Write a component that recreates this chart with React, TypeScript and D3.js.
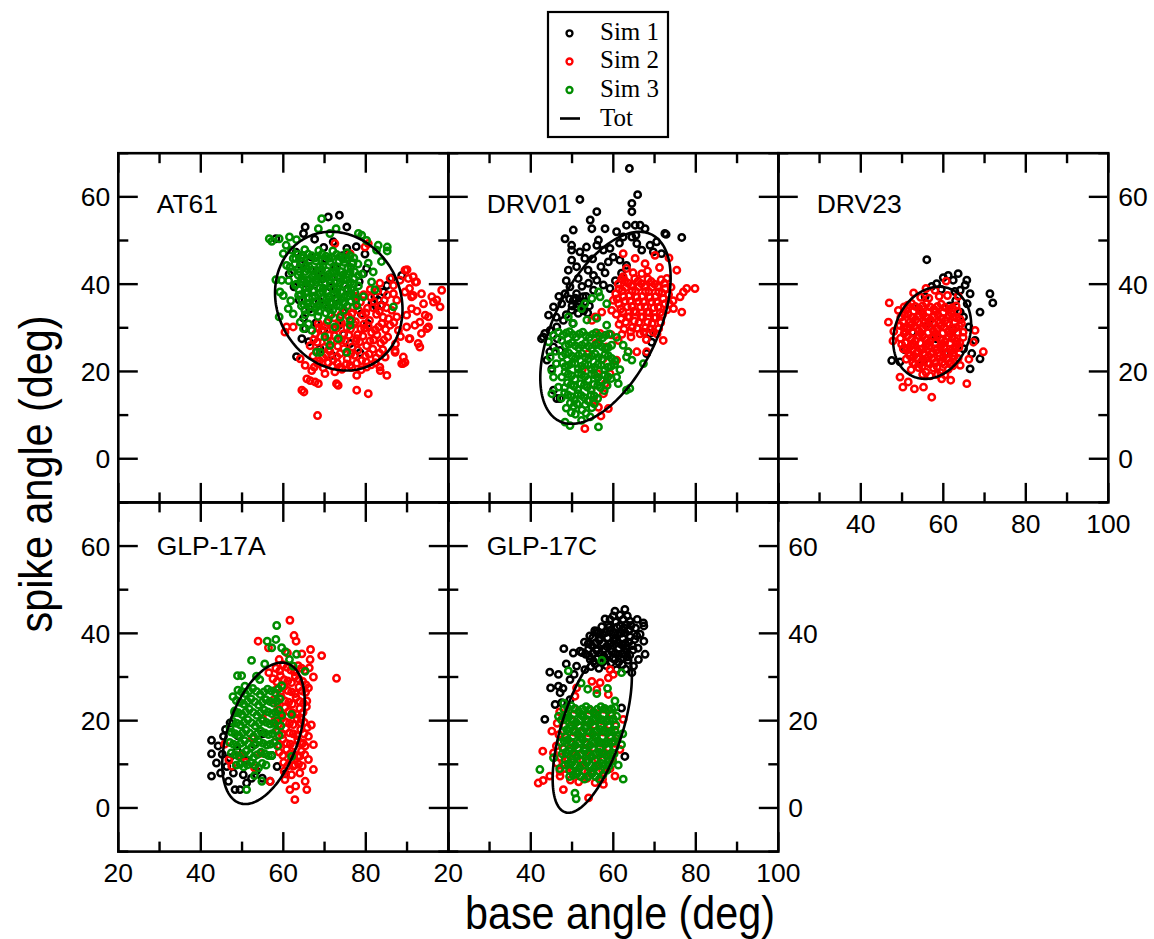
import React from 'react';
import * as d3 from 'd3';

// ---------- axes / labels ----------
const xDomain = [20, 100];
const yDomain = [-10, 70];
const majorTicks = [20, 40, 60, 80, 100];
const yMajorTicks = [0, 20, 40, 60];
const xMinorTicks = [30, 50, 70, 90];
const yMinorTicks = [-10, 10, 30, 50, 70];
const seriesNames = ['Sim 1', 'Sim 2', 'Sim 3'];
const totName = 'Tot';
const seriesColors = ['#000000', '#ff0000', '#008c00'];
const xTitle = 'base angle (deg)';
const yTitle = 'spike angle (deg)';

// ---------- ellipse ("Tot") parameters: [cx, cy, sdx, sdy, r] ----------
const at61Ellipse = [73.45, 36.1, 15.45, 15.9, -0.12];
const drv01Ellipse = [58.1, 30.0, 15.8, 22.0, 0.52];
const drv23Ellipse = [57.3, 28.85, 9.45, 10.55, 0.18];
const glp17aEllipse = [55.2, 17.1, 10.0, 16.2, 0.44];
const glp17cEllipse = [54.9, 18.4, 9.6, 19.5, 0.6];

// ---------- scatter data (x, y pairs) ----------
const at61Sim1 = [
  58.2,50.4, 65.3,53.1, 70.9,55.4, 73.6,55.8, 75.4,53.1, 64.9,51.6, 72.1,49.7, 75.4,48.2, 67.6,50.3, 69.8,48.4,
  88.7,42.0, 84.3,38.2, 82.2,37.1, 82.6,34.8, 83.0,36.3, 80.2,43.6, 79.4,42.4, 85.1,39.7, 81.5,35.6, 83.8,35.2, 86.2,41.4,
  63.2,23.4, 64.5,27.5, 65.3,29.8, 76.2,26.4, 68.9,25.2, 66.2,26.8, 78.6,24.3, 71.8,23.7, 74.6,28.5,
  64.2,44.5, 66.8,46.2, 68.1,43.1, 70.2,45.8, 72.5,44.0, 74.3,46.5, 76.8,44.8, 78.4,40.6, 65.5,40.2, 67.3,38.5,
  69.5,41.2, 71.4,39.3, 73.2,41.7, 75.6,38.9, 77.3,37.2, 63.8,36.4, 66.4,34.3, 68.7,36.1, 70.8,34.6, 72.9,36.8,
  74.7,33.5, 76.5,31.8, 78.9,33.2, 80.4,31.0, 64.9,32.2, 67.9,31.1, 69.8,29.3, 73.4,30.5, 62.6,39.4, 61.4,42.3,
  63.1,47.3, 79.8,46.9, 77.7,48.6
];
const at61Sim2 = [
  72.5,49.3, 80.6,49.3, 79.8,48.5, 76.2,47.0, 89.5,43.2, 90.3,41.3, 92.3,40.5, 89.5,38.2, 91.5,37.4, 93.5,37.8,
  96.0,37.1, 98.4,38.6, 97.2,36.4, 94.0,35.5, 91.1,34.4, 92.4,33.8, 94.4,32.9, 95.2,32.5, 95.2,30.2, 93.1,31.3,
  91.9,30.6, 89.9,32.9, 87.5,32.5, 89.9,30.2, 87.9,29.4, 85.9,30.6, 85.5,32.1, 86.3,34.0, 87.5,36.3, 86.7,37.8,
  86.7,39.7, 85.9,41.3, 88.3,40.9, 98.0,34.8, 96.4,35.9, 93.5,28.7, 90.7,27.5, 92.7,26.4, 93.1,25.6, 89.1,23.3,
  89.5,22.1, 88.7,21.8, 87.1,24.4, 84.7,23.3, 83.4,21.0, 85.1,19.1, 80.2,21.0, 77.8,19.1, 76.2,21.4, 73.7,21.0,
  72.5,19.9, 70.1,19.5, 66.9,20.2, 66.5,17.9, 67.7,17.6, 68.5,17.2, 65.7,18.3, 64.5,15.7, 65.0,15.3, 73.3,16.8,
  77.8,15.7, 80.6,14.9, 65.3,21.4, 64.1,22.9, 62.4,30.2, 60.8,30.2, 60.4,29.0, 68.3,9.9, 72.9,17.2, 90.5,27.5,
  94.8,29.8, 92.0,40.5, 90.0,43.3, 91.5,41.7, 90.6,39.0, 91.1,37.1, 87.1,24.8, 83.5,20.2, 89.0,21.8,
  67.2,23.5, 68.8,22.4, 70.4,23.8, 72.1,22.6, 73.8,24.1, 75.5,22.9, 77.3,23.7, 79.0,22.5, 80.8,24.0, 82.5,23.1, 84.1,25.0,
  66.5,25.9, 68.2,26.7, 69.9,25.5, 71.6,26.9, 73.2,25.8, 75.0,27.0, 76.7,25.6, 78.5,26.8, 80.2,25.9, 81.9,27.2, 83.6,26.5, 85.3,27.9,
  67.8,28.6, 69.4,29.5, 71.1,28.3, 72.8,29.8, 74.5,28.6, 76.3,29.7, 78.0,28.4, 79.7,29.9, 81.4,28.9, 83.1,30.2, 84.8,29.6,
  70.6,31.2, 72.3,32.3, 74.1,31.1, 75.8,32.6, 77.5,31.4, 79.2,32.9, 80.9,31.7, 82.6,33.1, 84.2,32.4,
  76.9,34.8, 78.7,35.9, 80.4,34.5, 82.0,36.0, 83.7,35.0, 85.2,37.5, 81.1,38.8, 83.4,40.2,
  67.5,21.0, 69.7,20.8, 71.9,21.2, 74.2,20.5, 76.6,20.9, 78.9,20.4, 81.3,21.5,
  87.2,26.3, 88.4,28.0, 86.8,31.2, 82.3,22.0, 71.0,25.0, 77.8,27.5, 74.0,33.0, 68.5,31.0, 79.5,30.8,
  68.0,24.6, 69.6,23.2, 71.3,24.6, 73.0,23.4, 74.7,25.2, 76.4,24.1, 78.1,24.9, 79.9,23.5, 81.7,25.1, 83.3,24.2,
  67.4,27.3, 69.0,28.0, 70.7,26.9, 72.4,28.2, 74.1,27.3, 75.9,28.3, 77.6,26.9, 79.3,28.1, 81.0,27.0, 82.7,28.4, 84.4,27.2,
  68.6,30.0, 70.2,30.4, 72.0,29.8, 73.6,31.1, 75.4,30.0, 77.1,30.8, 78.8,29.8, 80.6,30.4, 82.3,29.5, 83.9,31.0,
  75.0,33.8, 76.6,33.2, 78.3,34.0, 80.0,33.4, 81.7,34.6, 83.3,33.8, 85.0,34.6,
  77.8,37.2, 79.5,37.6, 81.2,37.0, 82.9,38.4, 84.5,36.3,
  68.3,21.8, 70.9,22.0, 73.1,21.9, 75.3,21.7, 77.8,21.9, 80.1,22.2
];
const at61Sim3 = [
  56.6,50.4, 59.0,50.4, 61.5,50.8, 63.2,50.2, 60.7,48.9, 62.0,47.8, 60.0,47.0, 62.4,45.9, 60.8,44.3, 62.0,42.8,
  58.2,41.0, 59.6,40.9, 59.2,38.2, 60.0,37.4, 59.0,32.5, 61.2,34.4, 62.4,33.2, 69.3,55.0, 68.5,52.7, 71.3,51.6,
  72.8,52.7, 78.2,51.6, 79.0,51.2, 83.0,48.9, 85.2,48.5, 85.2,47.6, 82.6,47.8, 81.8,42.8, 78.2,42.0, 81.4,40.5,
  82.2,38.7, 86.7,34.8, 79.4,37.1, 77.8,35.1, 76.2,30.6, 75.4,24.4, 71.3,26.0, 68.9,24.4, 68.1,24.4, 73.3,27.5,
  70.1,27.9, 66.9,29.4, 64.9,29.8, 66.1,30.9, 64.1,31.3, 76.2,31.7, 72.5,30.2, 70.9,31.7, 57.2,49.8, 80.2,50.0,
  83.8,45.2, 80.6,44.8,
  63.5,46.8, 65.2,47.9, 66.9,46.5, 68.6,47.7, 70.3,46.4, 72.0,47.6, 73.7,46.3, 75.4,47.2, 77.1,46.0,
  62.8,44.6, 64.5,45.2, 66.2,44.0, 67.9,45.3, 69.6,44.1, 71.3,45.2, 73.0,44.0, 74.7,45.0, 76.4,43.8, 78.1,44.6,
  63.6,42.1, 65.3,42.9, 67.0,41.7, 68.7,42.8, 70.4,41.5, 72.1,42.6, 73.8,41.4, 75.5,42.3, 77.2,41.2,
  62.9,39.8, 64.6,40.5, 66.3,39.3, 68.0,40.4, 69.7,39.1, 71.4,40.2, 73.1,39.0, 74.8,39.9, 76.5,38.8, 78.2,39.6,
  63.7,37.4, 65.4,38.0, 67.1,36.9, 68.8,37.9, 70.5,36.6, 72.2,37.6, 73.9,36.5, 75.6,37.3,
  64.4,35.0, 66.1,35.6, 67.8,34.4, 69.5,35.4, 71.2,34.2, 72.9,35.1, 74.6,34.0,
  65.3,33.0, 68.4,32.6, 71.6,33.0, 73.8,32.4, 61.8,36.2, 61.3,40.8, 61.6,43.9, 79.1,42.3, 77.6,36.4,
  64.3,46.1, 66.0,46.9, 67.8,46.0, 69.4,46.9, 71.1,45.9, 72.9,46.8, 74.5,45.7, 76.2,46.5,
  63.7,43.5, 65.4,44.1, 67.1,43.2, 68.8,44.0, 70.5,43.0, 72.2,43.8, 73.9,42.9, 75.6,43.6, 77.3,42.8,
  64.4,41.2, 66.1,41.0, 67.8,40.9, 69.5,41.8, 71.2,41.0, 72.9,40.6, 74.6,41.0, 76.3,40.4,
  63.8,38.7, 65.5,39.2, 67.2,38.4, 68.9,39.1, 70.6,38.3, 72.3,39.0, 74.0,38.1, 75.7,38.6, 77.4,38.0,
  64.5,36.3, 66.2,36.9, 67.9,36.0, 69.6,36.8, 71.3,35.8, 73.0,36.4, 74.7,35.6, 76.4,36.0,
  65.2,34.0, 66.9,33.6, 68.6,33.8, 70.3,33.4, 72.0,34.1,
  63.0,45.9, 64.8,46.6, 66.5,45.5, 68.3,46.4, 70.0,45.3, 71.8,46.2, 73.5,45.2, 75.2,45.9, 76.9,44.9,
  64.0,42.8, 65.8,43.5, 67.5,42.4, 69.3,43.3, 71.0,42.2, 72.8,43.1, 74.5,42.1, 76.2,42.8,
  63.2,40.0, 65.0,40.9, 66.7,40.2, 68.5,41.1, 70.2,40.0, 72.0,41.5, 73.7,40.2, 75.4,40.9, 77.1,40.0,
  64.2,37.6, 66.0,38.2, 67.7,37.3, 69.5,38.3, 71.2,37.2, 73.0,38.2, 74.7,37.1, 76.4,37.8,
  65.0,35.3, 66.8,35.0, 68.5,35.1, 70.3,35.0, 72.0,35.6, 73.7,34.9, 75.5,35.0
];

const drv01Sim1 = [
  63.9,66.5, 51.9,59.4, 65.9,60.5, 64.5,58.5, 64.5,56.6, 56.0,56.6, 54.4,54.7, 54.8,52.7, 50.3,52.4, 48.3,50.4,
  49.9,48.9, 49.9,47.8, 58.0,52.7, 60.8,52.0, 63.2,53.5, 65.3,53.5, 66.5,53.5, 62.4,50.8, 64.5,50.8, 65.5,51.2,
  67.7,52.7, 72.5,51.6, 76.6,50.7, 70.5,49.7, 71.7,47.0, 69.7,47.4, 56.4,50.1, 56.0,48.9, 53.5,48.5, 51.9,47.4,
  53.1,45.9, 57.6,47.8, 59.2,48.2, 60.0,46.2, 58.8,45.1, 61.6,45.5, 63.2,44.3, 65.7,49.3, 66.9,47.8, 68.9,48.9,
  49.9,45.5, 49.1,43.2, 51.1,44.0, 53.9,43.2, 55.2,42.0, 51.5,41.3, 49.5,39.4, 48.3,37.8, 47.5,35.5, 51.1,37.8,
  56.0,40.9, 57.6,39.8, 59.2,39.0, 55.2,38.6, 52.7,37.1, 50.3,36.3, 51.1,34.8, 52.3,34.8, 49.9,34.0, 51.5,33.3,
  53.1,35.9, 45.5,34.8, 44.3,32.9, 43.0,27.9, 43.4,28.7, 46.3,30.2, 44.7,29.4, 45.5,25.6, 43.9,22.6, 45.1,20.6,
  47.1,24.8, 47.9,31.7, 69.3,26.7, 68.9,28.7, 47.1,13.8, 45.5,15.7, 72.8,51.4, 68.1,24.1, 42.6,27.5, 46.3,13.8,
  57.0,44.0, 54.0,40.2, 62.0,42.5, 60.5,40.8, 58.0,42.6, 48.6,40.8, 46.8,37.2, 52.4,39.5, 50.2,31.0, 48.6,33.0,
  53.8,33.4, 61.5,49.4, 55.0,45.8, 46.2,32.4, 44.6,24.5, 46.4,27.5,
  50.8,36.8, 52.0,36.0, 53.4,37.2, 50.0,35.0, 52.8,33.9, 54.2,35.0, 49.4,36.6, 51.6,35.4
];
const drv01Sim2 = [
  79.8,39.0, 77.8,39.0, 77.0,38.2, 76.2,37.1, 76.6,33.6, 74.6,34.4, 75.4,43.2, 73.0,41.3, 70.1,46.6, 67.7,44.7,
  65.3,45.9, 62.4,47.0, 62.4,41.7, 63.2,43.6, 66.9,42.4, 72.1,27.1, 68.1,24.5, 65.7,24.5, 63.6,24.5, 69.7,29.0,
  60.0,36.3, 59.6,34.0, 57.2,33.6, 55.6,32.5, 54.8,31.7, 53.1,6.9, 55.2,13.4, 57.6,14.9, 56.4,11.8, 59.2,19.5,
  60.8,22.6, 58.4,25.6, 56.8,28.7, 61.2,27.1, 73.5,46.0, 71.2,43.8,
  61.2,40.0, 62.8,40.8, 64.4,39.6, 66.0,40.7, 67.6,39.5, 69.2,40.6, 70.8,39.4, 72.4,40.2,
  60.6,37.8, 62.2,38.5, 63.8,37.3, 65.4,38.4, 67.0,37.2, 68.6,38.3, 70.2,37.1, 71.8,38.0, 73.4,37.6,
  61.3,35.5, 62.9,36.1, 64.5,34.9, 66.1,36.0, 67.7,34.8, 69.3,35.9, 70.9,34.7, 72.5,35.5,
  60.7,33.1, 62.3,33.7, 63.9,32.5, 65.5,33.6, 67.1,32.4, 68.7,33.5, 70.3,32.3, 71.9,33.0,
  61.4,30.8, 63.0,31.3, 64.6,30.1, 66.2,31.2, 67.8,30.0, 69.4,31.0, 71.0,29.8,
  62.1,28.5, 64.3,27.9, 66.5,28.6, 68.0,27.3, 64.8,42.6, 68.3,43.0, 74.5,36.2, 74.0,39.3,
  55.8,26.5, 57.5,22.8, 56.2,19.5, 58.0,17.2, 54.6,15.8, 57.0,9.8, 59.5,28.4, 53.8,24.0, 52.5,20.5, 58.8,11.5,
  62.0,41.2, 63.6,40.2, 65.2,41.3, 66.8,40.1, 68.4,41.2, 70.0,40.0, 71.6,41.0,
  61.4,38.9, 63.0,39.2, 64.6,38.5, 66.2,39.4, 67.8,38.3, 69.4,39.3, 71.0,38.2, 72.6,39.0,
  60.9,36.6, 62.5,37.2, 64.1,36.1, 65.7,37.0, 67.3,35.9, 68.9,37.0, 70.5,35.9, 72.1,36.7, 73.6,35.5,
  61.8,34.3, 63.4,34.8, 65.0,33.8, 66.6,34.8, 68.2,33.6, 69.8,34.6, 71.4,33.5, 73.0,34.1,
  61.9,32.0, 63.5,32.5, 65.1,31.5, 66.7,32.5, 68.3,31.3, 69.9,32.3, 71.5,31.2,
  62.6,29.7, 64.2,29.1, 65.8,29.9, 67.4,29.0, 69.0,29.8, 70.6,28.6
];
const drv01Sim3 = [
  56.4,7.3, 49.5,7.6, 48.3,8.4, 52.3,8.8, 54.4,9.6, 45.1,14.9, 46.7,16.4, 45.5,18.7, 45.1,20.2, 63.2,15.7,
  64.0,16.1, 61.2,17.2, 60.8,18.7, 67.3,21.8, 64.5,22.6, 63.2,23.3, 63.6,24.5, 62.4,26.0, 58.4,35.5, 56.8,37.1,
  54.8,36.7, 56.4,38.2, 53.1,35.5, 52.3,34.4, 49.1,32.5, 46.7,29.0, 45.5,28.3, 44.3,26.8, 47.5,27.1, 44.7,23.3,
  50.8,10.2,
  47.8,28.3, 49.4,29.1, 51.0,27.9, 52.6,29.0, 54.2,27.8, 55.8,28.9, 57.4,27.7, 59.0,28.6,
  48.4,25.9, 50.0,26.6, 51.6,25.4, 53.2,26.5, 54.8,25.3, 56.4,26.4, 58.0,25.2, 59.6,26.0,
  47.6,23.5, 49.2,24.2, 50.8,23.0, 52.4,24.1, 54.0,22.9, 55.6,24.0, 57.2,22.8, 58.8,23.6, 60.4,22.4,
  48.3,21.1, 49.9,21.8, 51.5,20.6, 53.1,21.7, 54.7,20.5, 56.3,21.6, 57.9,20.4, 59.5,21.2,
  47.5,18.7, 49.1,19.4, 50.7,18.2, 52.3,19.3, 53.9,18.1, 55.5,19.2, 57.1,18.0, 58.7,18.8,
  48.2,16.3, 49.8,17.0, 51.4,15.8, 53.0,16.9, 54.6,15.7, 56.2,16.8, 57.8,15.6,
  47.4,13.9, 49.0,14.6, 50.6,13.4, 52.2,14.5, 53.8,13.3, 55.4,14.4,
  48.6,11.6, 50.4,12.0, 52.4,11.2, 54.8,11.7,
  50.3,31.0, 53.6,31.8, 56.0,32.2, 58.4,30.6, 60.8,27.8, 61.6,20.4, 46.2,21.8, 46.0,24.6,
  48.6,28.8, 50.2,28.4, 51.8,28.6, 53.4,28.2, 55.0,28.5, 56.6,28.1, 58.2,28.3,
  49.2,26.2, 50.8,25.9, 52.4,26.0, 54.0,25.8, 55.6,26.0, 57.2,25.7, 58.8,25.5,
  48.4,24.0, 50.0,23.5, 51.6,23.7, 53.2,23.3, 54.8,23.6, 56.4,23.2, 58.0,23.9, 59.6,23.0,
  47.7,21.9, 49.1,21.4, 50.7,21.9, 52.3,21.2, 53.9,21.5, 55.5,21.0, 57.1,21.4, 58.7,21.0, 60.3,21.6,
  48.3,19.9, 49.9,19.0, 51.5,19.6, 53.1,18.8, 54.7,19.4, 56.3,18.6, 57.9,19.2, 59.5,18.4,
  48.9,17.4, 50.5,16.6, 52.1,17.2, 53.7,16.4, 55.3,17.0, 56.9,16.3, 58.5,16.8,
  48.2,15.1, 49.8,14.2, 51.4,14.9, 53.0,14.0, 54.6,14.6, 56.2,13.8,
  49.6,12.8, 51.2,12.6, 53.2,12.4, 55.4,12.6, 49.8,10.6, 53.4,10.4
];

const drv23Sim1 = [
  56.0,45.6, 61.2,42.0, 63.6,42.4, 65.7,40.9, 65.3,39.8, 62.4,40.9, 58.4,40.1, 57.2,39.5, 64.1,38.6, 66.5,37.8,
  71.3,37.8, 72.0,35.7, 68.9,33.6, 64.1,33.6, 64.9,32.5, 67.7,27.1, 66.9,24.1, 68.9,22.9, 66.5,20.6, 47.5,22.5,
  49.5,22.2, 64.9,25.2, 55.6,37.1, 60.0,41.5, 62.8,38.3, 59.5,38.8, 63.0,36.2, 65.8,35.5, 66.2,30.2, 61.5,35.0,
  54.0,34.5, 56.5,31.0, 58.2,27.5, 52.5,29.0, 60.5,24.0, 55.0,22.5, 62.4,29.6, 50.6,25.0
];
const drv23Sim2 = [
  46.9,35.7, 46.7,31.3, 49.1,34.0, 60.7,40.7, 67.7,29.4, 67.3,26.7, 69.7,24.5, 65.7,17.2, 57.2,14.1, 50.2,16.4,
  49.5,18.7, 51.5,17.6, 55.2,16.4, 59.6,18.3, 64.1,21.4, 48.0,29.2, 47.8,27.0, 53.0,16.0, 61.8,18.0, 66.2,22.8,
  52.8,38.0, 55.8,39.0, 58.0,38.6, 63.6,37.2,
  50.5,34.8, 52.3,35.6, 54.1,34.4, 55.9,35.5, 57.7,34.3, 59.5,35.4, 61.3,34.2, 63.1,35.0,
  49.7,32.4, 51.5,33.1, 53.3,31.9, 55.1,33.0, 56.9,31.8, 58.7,32.9, 60.5,31.7, 62.3,32.5, 64.1,31.9,
  50.4,30.0, 52.2,30.6, 54.0,29.4, 55.8,30.5, 57.6,29.3, 59.4,30.4, 61.2,29.2, 63.0,30.0, 64.8,29.0,
  49.6,27.6, 51.4,28.2, 53.2,27.0, 55.0,28.1, 56.8,26.9, 58.6,28.0, 60.4,26.8, 62.2,27.6, 64.0,26.6,
  50.3,25.2, 52.1,25.8, 53.9,24.6, 55.7,25.7, 57.5,24.5, 59.3,25.6, 61.1,24.4, 62.9,25.2,
  51.0,22.8, 52.8,23.4, 54.6,22.2, 56.4,23.3, 58.2,22.1, 60.0,23.2, 61.8,22.0, 63.6,23.0,
  52.2,20.4, 54.0,20.9, 55.8,19.8, 57.6,20.8, 59.4,19.7, 61.2,20.5,
  54.5,37.0, 56.5,36.8, 59.0,37.2, 61.0,37.4,
  51.4,35.2, 53.2,34.9, 55.0,35.0, 56.8,34.8, 58.6,34.9, 60.4,34.7, 62.2,34.6,
  50.6,33.0, 52.4,32.4, 54.2,32.7, 56.0,32.3, 57.8,32.6, 59.6,32.2, 61.4,32.8, 63.2,32.3,
  49.5,30.5, 51.3,29.9, 53.1,30.4, 54.9,29.8, 56.7,30.3, 58.5,29.7, 60.3,30.1, 62.1,29.6, 63.9,30.4,
  50.5,28.7, 52.3,27.4, 54.1,28.2, 55.9,27.3, 57.7,28.0, 59.5,27.2, 61.3,27.9, 63.1,27.0, 64.8,27.8,
  49.9,26.2, 51.2,25.2, 53.0,26.1, 54.8,25.1, 56.6,25.9, 58.4,25.0, 60.2,25.7, 62.0,24.8, 63.8,25.5,
  51.9,23.6, 53.7,23.0, 55.5,23.7, 57.3,22.9, 59.1,23.6, 60.9,22.8, 62.7,23.5,
  53.1,21.6, 54.9,21.2, 56.7,21.7, 58.5,21.1, 60.3,21.6, 62.3,21.3,
  55.0,19.3, 56.8,19.0, 58.6,19.3, 60.4,19.2,
  51.0,34.0, 52.8,33.8, 54.6,33.7, 56.4,33.6, 58.2,33.7, 60.0,33.5, 61.8,33.4, 63.5,33.8,
  50.2,31.4, 52.0,31.4, 53.8,31.2, 55.6,31.3, 57.4,31.1, 59.2,31.2, 61.0,31.0, 62.8,31.3, 64.4,31.0,
  50.9,29.0, 52.7,28.9, 54.5,28.8, 56.3,28.9, 58.1,28.7, 59.9,28.8, 61.7,28.6, 63.5,28.9,
  50.8,26.6, 52.6,26.4, 54.4,26.5, 56.2,26.4, 58.0,26.6, 59.8,26.3, 61.6,26.5, 63.4,26.3,
  51.6,24.2, 53.4,24.1, 55.2,24.3, 57.0,24.0, 58.8,24.3, 60.6,24.0, 62.4,24.2,
  52.6,22.0, 54.4,21.8, 56.2,22.0, 58.0,21.9, 59.8,22.1, 61.6,21.8
];
const drv23Sim3: number[] = [];

const glp17aSim1 = [
  42.6,15.5, 42.6,12.4, 42.6,7.3, 44.2,14.2, 43.8,10.3, 45.5,16.4, 47.1,19.5, 48.3,4.2, 49.5,4.2, 46.7,6.1,
  47.9,8.0, 51.1,5.7, 46.3,9.5, 56.8,6.1, 50.3,7.6, 52.3,6.8, 53.5,8.5, 45.2,12.3, 47.0,11.5, 48.8,13.2,
  44.8,8.0, 54.9,6.8, 46.0,18.0, 49.0,16.5, 51.0,11.0, 53.0,14.5, 55.0,17.0, 57.2,12.0, 58.5,9.5, 60.5,7.8
];
const glp17aSim2 = [
  61.6,43.0, 62.6,39.5, 63.1,38.2, 53.9,38.2, 56.4,36.7, 66.6,36.3, 69.3,34.9, 66.5,34.0, 72.9,29.7, 67.3,30.0,
  66.3,32.1, 66.1,27.5, 65.7,24.5, 64.4,20.3, 66.1,16.4, 67.3,14.5, 66.1,11.1, 67.3,8.8, 65.3,6.1, 65.7,4.2,
  62.8,1.9, 61.6,4.2, 64.0,8.0, 64.0,11.9, 62.4,9.6, 60.4,6.5, 56.8,6.1, 45.8,14.6, 46.8,11.0, 47.5,9.6,
  64.5,35.3, 61.0,35.5, 59.0,34.0, 56.5,31.0, 63.0,5.0, 64.8,14.9, 66.8,19.0,
  58.2,32.0, 60.0,32.8, 61.8,31.6, 63.6,32.6, 65.2,31.5,
  57.5,29.6, 59.3,30.3, 61.1,29.1, 62.9,30.2, 64.7,29.0,
  58.4,27.2, 60.2,27.8, 62.0,26.6, 63.8,27.7, 65.4,26.5,
  57.7,24.8, 59.5,25.4, 61.3,24.2, 63.1,25.3, 64.9,24.0,
  58.6,22.4, 60.4,23.0, 62.2,21.8, 64.0,22.8,
  57.9,20.0, 59.7,20.6, 61.5,19.4, 63.3,20.5, 65.1,19.6,
  58.8,17.6, 60.6,18.2, 62.4,17.0, 64.2,18.0,
  58.1,15.2, 59.9,15.8, 61.7,14.6, 63.5,15.6, 65.3,14.2,
  59.0,12.8, 60.8,13.4, 62.6,12.2, 64.4,13.0,
  60.1,10.4, 61.9,10.9, 63.7,10.0,
  52.5,16.0, 54.5,12.5, 50.8,10.5, 55.0,20.5, 53.0,9.2, 49.5,12.0,
  59.1,31.4, 60.9,32.2, 62.7,31.2, 64.4,32.0,
  58.4,28.9, 60.2,29.4, 62.0,28.7, 63.8,29.5, 65.5,28.2,
  59.3,26.4, 61.1,26.9, 62.9,26.2, 64.6,26.8,
  58.6,24.0, 60.4,24.5, 62.2,23.8, 64.0,24.4, 65.6,23.2,
  59.5,21.6, 61.3,22.1, 63.1,21.5, 64.8,21.9,
  58.8,19.2, 60.6,19.7, 62.4,19.1, 64.2,19.5, 65.8,18.4,
  59.7,16.8, 61.5,17.2, 63.3,16.6, 65.0,17.0,
  59.0,14.4, 60.8,14.8, 62.6,14.2, 64.4,14.6,
  59.9,12.0, 61.7,12.4, 63.5,11.8, 65.2,12.2,
  61.0,9.6, 62.8,9.9, 64.6,9.6, 62.0,7.6, 60.2,8.4
];
const glp17aSim3 = [
  58.4,41.8, 56.1,38.2, 58.2,38.6, 59.6,36.7, 57.2,36.7, 52.3,33.8, 48.9,30.3, 49.9,30.3, 50.7,27.9, 53.5,30.2,
  54.3,29.4, 63.2,35.2, 65.3,31.3, 62.4,32.5, 47.1,18.3, 51.1,4.2, 54.8,6.1, 62.0,11.8, 62.0,21.4, 60.5,35.8,
  61.5,34.0, 55.5,33.0, 48.2,21.8, 47.8,25.5,
  49.0,27.0, 50.8,26.2, 52.6,27.4, 54.4,26.0, 56.2,27.2, 58.0,26.4, 59.6,28.0,
  48.6,24.6, 50.4,23.8, 52.2,25.0, 54.0,23.6, 55.8,24.8, 57.6,24.0, 59.2,25.0,
  48.2,22.2, 50.0,21.4, 51.8,22.6, 53.6,21.2, 55.4,22.4, 57.2,21.6, 59.0,22.4,
  47.8,19.8, 49.6,19.0, 51.4,20.2, 53.2,18.8, 55.0,20.0, 56.8,19.2, 58.6,20.0,
  47.4,17.4, 49.2,16.6, 51.0,17.8, 52.8,16.4, 54.6,17.6, 56.4,16.8, 58.2,17.6,
  47.0,15.0, 48.8,14.2, 50.6,15.4, 52.4,14.0, 54.2,15.2, 56.0,14.4, 57.8,15.0,
  47.4,12.6, 49.2,11.8, 51.0,13.0, 52.8,11.6, 54.6,12.8, 56.4,12.0,
  48.6,9.8, 50.4,9.4, 52.2,10.4, 54.0,9.2, 55.8,9.8, 53.0,7.4,
  49.9,26.6, 51.7,26.8, 53.5,26.7, 55.3,26.6, 57.1,26.8, 58.8,27.2,
  49.5,24.2, 51.3,24.4, 53.1,24.3, 54.9,24.2, 56.7,24.4, 58.4,24.5,
  49.1,21.8, 50.9,22.0, 52.7,21.9, 54.5,21.8, 56.3,22.0, 58.1,21.9, 59.6,21.2,
  48.7,19.4, 50.5,19.6, 52.3,19.5, 54.1,19.4, 55.9,19.6, 57.7,19.4, 59.4,18.8,
  48.3,17.0, 50.1,17.2, 51.9,17.1, 53.7,17.0, 55.5,17.2, 57.3,17.0, 59.0,16.6,
  47.9,14.6, 49.7,14.8, 51.5,14.7, 53.3,14.6, 55.1,14.8, 56.9,14.6, 58.6,14.2,
  48.3,12.2, 50.1,12.4, 51.9,12.3, 53.7,12.2, 55.5,12.4, 57.2,12.0,
  49.5,10.0, 51.3,9.9, 53.1,9.8, 54.9,10.2
];

const glp17cSim1 = [
  62.8,45.5, 60.4,45.1, 60.0,44.0, 58.0,43.3, 59.2,43.2, 62.4,43.2, 64.0,42.8, 67.3,42.4, 67.4,41.7, 61.6,41.7,
  64.0,40.9, 65.7,39.4, 66.5,39.8, 67.4,38.2, 56.0,40.5, 54.3,39.4, 51.9,35.9, 50.3,35.5, 48.0,36.5, 67.7,35.2,
  66.1,34.0, 64.9,32.5, 64.5,31.0, 44.6,31.1, 46.7,30.6, 44.8,27.5, 46.7,27.9, 47.1,26.4, 45.9,23.7, 47.5,24.1,
  49.5,24.8, 43.4,20.3, 62.0,22.9, 62.8,11.8, 51.1,32.5, 53.1,31.7, 55.2,33.6, 57.6,34.8, 60.4,34.0, 60.8,31.7,
  49.5,29.4,
  53.0,38.0, 54.8,37.2, 56.6,38.4, 58.4,37.0, 60.2,38.2, 62.0,37.4, 63.8,38.0,
  52.4,35.6, 54.2,34.8, 56.0,36.0, 57.8,34.6, 59.6,35.8, 61.4,35.0, 63.2,35.8,
  55.5,40.6, 57.4,39.8, 59.2,40.6, 61.0,39.8, 62.8,40.2,
  54.6,32.4, 56.5,32.0, 58.3,32.6, 62.2,32.8, 63.6,33.8, 48.6,33.0, 50.5,30.6, 47.8,27.4,
  53.9,37.6, 55.7,37.8, 57.5,37.7, 59.3,37.6, 61.1,37.8, 62.9,37.7, 64.6,37.2,
  53.3,35.2, 55.1,35.4, 56.9,35.3, 58.7,35.2, 60.5,35.4, 62.3,35.3, 64.0,35.0,
  56.4,40.2, 58.3,40.2, 60.1,40.2, 61.9,40.0, 63.7,40.6, 65.2,38.6,
  55.6,33.0, 57.4,33.4, 59.4,33.2, 61.3,33.4, 63.0,31.8,
  58.8,42.0, 60.6,42.6, 63.2,42.0, 65.4,41.2, 66.0,36.6,
  54.0,36.4, 55.9,36.5, 57.7,36.4, 59.5,36.5, 61.3,36.6, 63.1,36.5, 64.8,36.2,
  55.0,39.0, 56.8,39.0, 58.6,39.0, 60.5,39.0, 62.3,38.9, 64.1,39.2,
  57.2,41.5, 59.0,41.4, 60.9,41.4, 62.6,41.3, 64.3,41.8,
  54.4,34.0, 56.2,34.2, 58.0,34.0, 59.9,34.3, 61.8,34.2, 63.4,34.6,
  61.6,44.2, 63.4,44.0, 65.8,43.2
];
const glp17cSim2 = [
  59.2,31.7, 58.8,29.8, 60.0,30.6, 56.8,28.7, 56.0,27.1, 54.8,29.0, 51.1,27.5, 50.7,25.6, 45.1,17.6, 42.9,13.0,
  41.8,5.7, 43.0,6.3, 44.6,7.3, 47.9,4.2, 54.0,2.3, 57.6,5.4, 60.4,7.3, 61.6,13.4, 62.4,20.3, 46.3,10.3,
  47.1,8.4, 47.1,7.3, 45.5,12.6, 58.8,26.0, 61.2,16.5,
  47.0,22.0, 48.8,21.4, 50.6,22.6, 52.4,21.2, 54.2,22.4, 56.0,21.6, 57.8,22.6, 59.6,21.6,
  46.4,19.4, 48.2,18.8, 50.0,20.0, 51.8,18.6, 53.6,19.8, 55.4,19.0, 57.2,20.0, 59.0,19.0, 60.6,18.8,
  46.8,16.8, 48.6,16.2, 50.4,17.4, 52.2,16.0, 54.0,17.2, 55.8,16.4, 57.6,17.4, 59.4,16.4,
  46.2,14.2, 48.0,13.6, 49.8,14.8, 51.6,13.4, 53.4,14.6, 55.2,13.8, 57.0,14.8, 58.8,13.8, 60.4,14.8,
  47.2,11.6, 49.0,11.0, 50.8,12.2, 52.6,10.8, 54.4,12.0, 56.2,11.2, 58.0,12.2, 59.8,11.2,
  48.4,9.0, 50.2,8.4, 52.0,9.6, 53.8,8.2, 55.6,9.4, 57.4,8.6, 59.2,9.0,
  49.6,6.4, 51.6,6.0, 53.6,6.8, 55.6,5.8, 57.4,6.6
];
const glp17cSim3 = [
  57.2,33.8, 49.1,31.4, 62.0,31.0, 42.2,8.8, 45.5,11.5, 62.4,6.6, 50.7,3.4, 51.0,2.1, 62.0,14.5, 46.7,21.0,
  62.3,17.0, 60.4,24.5, 53.8,27.2, 52.2,28.6, 56.0,26.2, 58.6,27.4, 48.0,24.0,
  48.0,22.6, 49.8,23.4, 51.6,22.2, 53.4,23.2, 55.2,22.0, 57.0,23.2, 58.8,22.4, 60.4,23.0,
  47.4,20.2, 49.2,20.8, 51.0,19.6, 52.8,20.8, 54.6,19.6, 56.4,20.6, 58.2,19.8, 60.0,20.4,
  47.8,17.6, 49.6,18.2, 51.4,17.0, 53.2,18.2, 55.0,17.0, 56.8,18.0, 58.6,17.2, 60.4,17.8,
  47.2,15.0, 49.0,15.6, 50.8,14.4, 52.6,15.6, 54.4,14.4, 56.2,15.4, 58.0,14.6, 59.8,15.2,
  47.6,12.4, 49.4,13.0, 51.2,11.8, 53.0,13.0, 54.8,11.8, 56.6,12.8, 58.4,12.0, 60.2,12.4,
  48.2,9.8, 50.0,10.4, 51.8,9.2, 53.6,10.4, 55.4,9.2, 57.2,10.2, 59.0,9.6,
  49.4,7.2, 51.2,7.8, 53.0,6.6, 54.8,7.8, 56.6,6.6, 47.0,9.0, 61.2,9.8,
  48.9,23.0, 50.7,22.8, 52.5,22.7, 54.3,22.6, 56.1,22.6, 57.9,22.8, 59.6,22.7,
  48.3,20.5, 50.1,20.2, 51.9,20.2, 53.7,20.2, 55.5,20.1, 57.3,20.2, 59.1,20.1, 60.8,21.0,
  48.7,17.9, 50.5,17.6, 52.3,17.6, 54.1,17.6, 55.9,17.5, 57.7,17.6, 59.5,17.5,
  48.1,15.3, 49.9,15.0, 51.7,15.0, 53.5,15.0, 55.3,14.9, 57.1,14.9, 58.9,14.9, 60.7,15.9,
  48.5,12.7, 50.3,12.4, 52.1,12.4, 53.9,12.4, 55.7,12.3, 57.5,12.4, 59.3,12.2,
  49.1,10.1, 50.9,9.8, 52.7,9.8, 54.5,9.8, 56.3,9.7, 58.1,9.9, 59.8,10.8,
  50.3,7.5, 52.1,7.2, 53.9,7.2, 55.7,7.2, 57.5,7.6,
  48.6,21.4, 50.4,21.5, 52.2,21.4, 54.0,21.4, 55.8,21.3, 57.6,21.4, 59.4,21.3,
  48.0,18.9, 49.8,19.0, 51.6,18.9, 53.4,18.9, 55.2,18.8, 57.0,18.9, 58.8,18.8, 60.6,19.0,
  48.4,16.3, 50.2,16.4, 52.0,16.3, 53.8,16.3, 55.6,16.2, 57.4,16.3, 59.2,16.2, 60.9,16.6,
  47.8,13.7, 49.6,13.8, 51.4,13.7, 53.2,13.7, 55.0,13.6, 56.8,13.7, 58.6,13.6, 60.4,13.9,
  48.3,11.1, 50.1,11.2, 51.9,11.0, 53.7,11.1, 55.5,11.0, 57.3,11.1, 59.1,11.0,
  49.4,8.6, 51.2,8.5, 53.0,8.4, 54.8,8.5, 56.6,8.4, 58.4,8.6
];

// ---------- layout ----------
const W = 1154;
const H = 939;
const colLeft = [118.3, 448.3, 778.3];
const rowTop = [153.2, 502.4];
const PW = 330;
const PH = 349.2;
const FONT = "'Liberation Sans', Arial, Helvetica, sans-serif";
const SERIF = "'Liberation Serif', 'Times New Roman', serif";
const MARK_R = 3.2;
const MARK_W = 2.5;

type Panel = {
  name: string; col: number; row: number; series: number[][]; ell: number[];
  yLab: 'left' | 'right' | null; xLab: number[]; labelDy: number;
};

const panels: Panel[] = [
  { name: 'AT61', col: 0, row: 0, series: [at61Sim1, at61Sim2, at61Sim3], ell: at61Ellipse, yLab: 'left', xLab: [], labelDy: 59.5 },
  { name: 'DRV01', col: 1, row: 0, series: [drv01Sim1, drv01Sim2, drv01Sim3], ell: drv01Ellipse, yLab: null, xLab: [], labelDy: 59.5 },
  { name: 'DRV23', col: 2, row: 0, series: [drv23Sim1, drv23Sim2, drv23Sim3], ell: drv23Ellipse, yLab: 'right', xLab: [40, 60, 80, 100], labelDy: 59.5 },
  { name: 'GLP-17A', col: 0, row: 1, series: [glp17aSim1, glp17aSim2, glp17aSim3], ell: glp17aEllipse, yLab: 'left', xLab: [20, 40, 60, 80], labelDy: 52.5 },
  { name: 'GLP-17C', col: 1, row: 1, series: [glp17cSim1, glp17cSim2, glp17cSim3], ell: glp17cEllipse, yLab: 'right', xLab: [20, 40, 60, 80, 100], labelDy: 52.5 },
];

function pairs(a: number[]): [number, number][] {
  const out: [number, number][] = [];
  for (let i = 0; i + 1 < a.length; i += 2) out.push([a[i], a[i + 1]]);
  return out;
}

function ellipsePoints(e: number[]): [number, number][] {
  const [cx, cy, sx, sy, r] = e;
  const k = Math.sqrt(1 - r * r);
  return d3.range(0, 360, 2).map((deg) => {
    const t = (deg * Math.PI) / 180;
    return [cx + sx * Math.cos(t), cy + sy * (r * Math.cos(t) + k * Math.sin(t))] as [number, number];
  });
}

function PanelView({ p }: { p: Panel }) {
  const left = colLeft[p.col];
  const top = rowTop[p.row];
  const x = d3.scaleLinear().domain(xDomain).range([left, left + PW]);
  const y = d3.scaleLinear().domain(yDomain).range([top + PH, top]);
  const line = d3.line<[number, number]>().x((d) => x(d[0])).y((d) => y(d[1])).curve(d3.curveLinearClosed);
  const bottom = top + PH;
  const right = left + PW;
  const tickW = 2.4;
  const MAJ = 19.5;
  const MIN = 10;
  return (
    <g>
      {p.series.map((s, si) => (
        <g key={si} fill="none" stroke={seriesColors[si]} strokeWidth={MARK_W}>
          {pairs(s).map((d, i) => (
            <circle key={i} cx={x(d[0])} cy={y(d[1])} r={MARK_R} />
          ))}
        </g>
      ))}
      <path d={line(ellipsePoints(p.ell)) || ''} fill="none" stroke="#000" strokeWidth={2.6} />
      <g stroke="#000" strokeWidth={tickW}>
        {majorTicks.map((v) => (
          <g key={'xm' + v}>
            <line x1={x(v)} x2={x(v)} y1={bottom} y2={bottom - MAJ} />
            <line x1={x(v)} x2={x(v)} y1={top} y2={top + MAJ} />
          </g>
        ))}
        {xMinorTicks.map((v) => (
          <g key={'xn' + v}>
            <line x1={x(v)} x2={x(v)} y1={bottom} y2={bottom - MIN} />
            <line x1={x(v)} x2={x(v)} y1={top} y2={top + MIN} />
          </g>
        ))}
        {yMajorTicks.map((v) => (
          <g key={'ym' + v}>
            <line x1={left} x2={left + MAJ} y1={y(v)} y2={y(v)} />
            <line x1={right} x2={right - MAJ} y1={y(v)} y2={y(v)} />
          </g>
        ))}
        {yMinorTicks.map((v) => (
          <g key={'yn' + v}>
            <line x1={left} x2={left + MIN} y1={y(v)} y2={y(v)} />
            <line x1={right} x2={right - MIN} y1={y(v)} y2={y(v)} />
          </g>
        ))}
      </g>
      <rect x={left} y={top} width={PW} height={PH} fill="none" stroke="#000" strokeWidth={2.6} />
      <text x={left + 38.4} y={top + p.labelDy} fontFamily={FONT} fontSize={26.5} fill="#000">{p.name}</text>
      {p.yLab &&
        yMajorTicks.map((v) => (
          <text
            key={'yl' + v}
            x={p.yLab === 'left' ? left - 8 : right + 10}
            y={y(v) + 9.5}
            textAnchor={p.yLab === 'left' ? 'end' : 'start'}
            fontFamily={FONT}
            fontSize={26.5}
            fill="#000"
          >
            {v}
          </text>
        ))}
      {p.xLab.map((v) => (
        <text key={'xl' + v} x={x(v)} y={bottom + 30.5} textAnchor="middle" fontFamily={FONT} fontSize={26.5} fill="#000">
          {v}
        </text>
      ))}
    </g>
  );
}

function Legend() {
  const lx = 548;
  const ly = 12;
  const rows = [33.3, 61.5, 90, 118.5];
  return (
    <g>
      <rect x={lx} y={ly} width={120} height={125} fill="#fff" stroke="#000" strokeWidth={2.2} />
      {seriesNames.map((n, i) => (
        <g key={n}>
          <circle cx={569.5} cy={rows[i]} r={3.0} fill="none" stroke={seriesColors[i]} strokeWidth={2.3} />
          <text x={600} y={rows[i] + 6.5} fontFamily={SERIF} fontSize={25} fill="#000">{n}</text>
        </g>
      ))}
      <line x1={560} x2={580} y1={rows[3]} y2={rows[3]} stroke="#000" strokeWidth={2.6} />
      <text x={600} y={rows[3] + 7.5} fontFamily={SERIF} fontSize={25} fill="#000">{totName}</text>
    </g>
  );
}

export default function App() {
  return (
    <svg width={W} height={H} style={{ position: 'absolute', left: 0, top: 0, background: '#fff' }}>
      <rect x={0} y={0} width={W} height={H} fill="#fff" />
      {panels.map((p) => (
        <PanelView key={p.name} p={p} />
      ))}
      <Legend />
      <text
        x={620}
        y={929}
        textAnchor="middle"
        fontFamily={FONT}
        fontSize={46}
        textLength={310}
        lengthAdjust="spacingAndGlyphs"
        fill="#000"
      >
        {xTitle}
      </text>
      <text
        transform="translate(52,474) rotate(-90)"
        textAnchor="middle"
        fontFamily={FONT}
        fontSize={46}
        textLength={317}
        lengthAdjust="spacingAndGlyphs"
        fill="#000"
      >
        {yTitle}
      </text>
    </svg>
  );
}
